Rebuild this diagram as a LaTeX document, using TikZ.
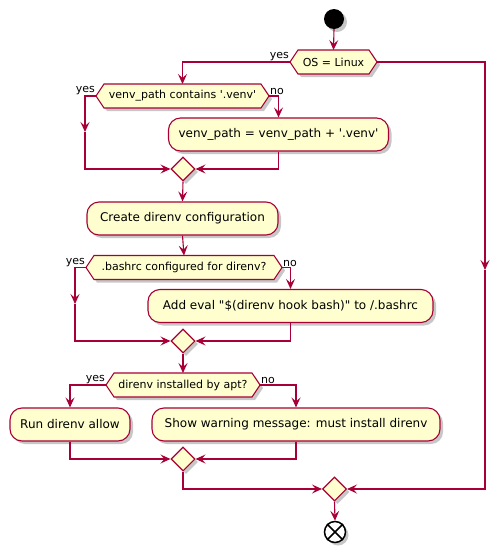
\documentclass[tikz,border=0pt]{standalone}
\usepackage{fontspec}
\setmainfont{DejaVu Sans}[Ligatures=TeXOff]
\usetikzlibrary{arrows.meta,shapes.geometric,shadows}
\definecolor{pred}{HTML}{A80036}
\definecolor{pfill}{HTML}{FEFECE}
\tikzset{
  shad/.style={drop shadow={shadow xshift=3pt,shadow yshift=-3pt,fill=black,opacity=0.22}},
  actbox/.style={draw=pred,fill=pfill,line width=1.1pt,rounded corners=12pt,minimum height=33pt,inner sep=0pt,font=\fontsize{12}{14}\selectfont,shad},
  decshape/.style={draw=pred,fill=pfill,line width=1.1pt,shad},
  dectext/.style={inner sep=0pt,font=\fontsize{11}{13}\selectfont},
  mergenode/.style={diamond,draw=pred,fill=pfill,line width=1.1pt,minimum width=24pt,minimum height=24pt,inner sep=0pt,shape aspect=1,shad},
  arr/.style={draw=pred,line width=1.1pt,-{Stealth[length=10pt,width=9pt,inset=4pt]}},
  lab/.style={inner sep=1pt,font=\fontsize{11}{13}\selectfont},
}
\newcommand{\hexdec}[5]{%
  \coordinate (#1l) at (#2,#4);
  \coordinate (#1r) at (#3,#4);
  \coordinate (#1t) at ({(#2+#3)/2},{#4+12});
  \path[decshape] (#2,#4) -- ({#2+8},{#4+12}) -- ({#3-8},{#4+12}) -- (#3,#4) -- ({#3-8},{#4-12}) -- ({#2+8},{#4-12}) -- cycle;
  \node[dectext] (#1) at ({(#2+#3)/2},#4) {#5};}
\begin{document}
\begin{tikzpicture}[x=1pt,y=1pt]
\useasboundingbox (0,0) rectangle (500,-552);
% start
\node[circle,fill=black,minimum size=20pt,inner sep=0pt,shad] (start) at (334,-19) {};
% decisions
\hexdec{os}{290}{377}{-62}{OS = Linux}
\hexdec{da}{96}{269}{-96}{venv\_path contains '.venv'}
\hexdec{db}{86}{282}{-267.5}{.bashrc configured for direnv?}
\hexdec{dc}{106}{260}{-385}{direnv installed by apt?}
% boxes
\node[actbox,minimum width=220pt] (b1) at (278.5,-134.5) {venv\_path = venv\_path + '.venv'};
\node[actbox,minimum width=191pt] (b2) at (182.5,-218.5) {Create direnv configuration};
\node[actbox,minimum width=285pt] (b3) at (290.5,-306) {Add eval "\$(direnv hook bash)" to /.bashrc};
\node[actbox,minimum width=120pt] (b4) at (70,-424.5) {Run direnv allow};
\node[actbox,minimum width=288pt] (b5) at (296,-424.5) {Show warning message: must install direnv};
% merges
\node[mergenode] (m1) at (183,-169) {};
\node[mergenode] (m2) at (183,-341) {};
\node[mergenode] (m3) at (183,-459) {};
\node[mergenode] (m4) at (334.5,-489) {};
% end
\node[circle,draw=black,fill=white,line width=1.5pt,minimum size=21pt,inner sep=0pt,shad] (end) at (335,-532) {};
\draw[black,line width=1.5pt] (end.north east) -- (end.south west) (end.north west) -- (end.south east);
% helper coordinates
\coordinate (ra) at (485,-270);
\coordinate (ya) at (85,-132);
\coordinate (yb) at (75,-304);
% connectors
\draw[arr] (start.south) -- (ost);
\draw[arr] (osl) -| (dat);
\node[lab,anchor=south east] at (osl) {yes};
\draw[arr] (osr) -| (ra);
\draw[arr] (ra) |- (m4.east);
\draw[arr] (dal) -| (ya);
\draw[arr] (ya) |- (m1.west);
\node[lab,anchor=south east] at (dal) {yes};
\draw[arr] (dar) -| (b1.north);
\node[lab,anchor=south west] at (dar) {no};
\draw[arr] (b1.south) |- (m1.east);
\draw[arr] (m1.south) -- (b2.north);
\draw[arr] (b2.south) -- (dbt);
\draw[arr] (dbl) -| (yb);
\draw[arr] (yb) |- (m2.west);
\node[lab,anchor=south east] at (dbl) {yes};
\draw[arr] (dbr) -| (b3.north);
\node[lab,anchor=south west] at (dbr) {no};
\draw[arr] (b3.south) |- (m2.east);
\draw[arr] (m2.south) -- (dct);
\draw[arr] (dcl) -| (b4.north);
\node[lab,anchor=south east] at (dcl) {yes};
\draw[arr] (dcr) -| (b5.north);
\node[lab,anchor=south west] at (dcr) {no};
\draw[arr] (b4.south) |- (m3.west);
\draw[arr] (b5.south) |- (m3.east);
\draw[arr] (m3.south) |- (m4.west);
\draw[arr] (m4.south) -- (end.north);
\end{tikzpicture}
\end{document}
